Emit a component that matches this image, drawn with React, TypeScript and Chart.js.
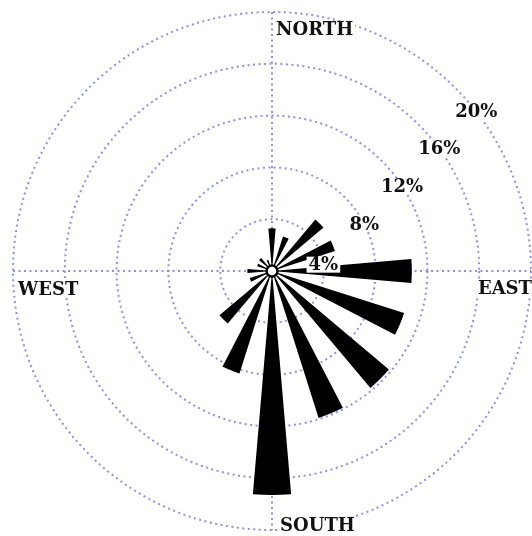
import React, { useEffect, useRef } from 'react';
import { Chart, registerables } from 'chart.js';

Chart.register(...registerables);

const directions = ['N', 'NNE', 'NE', 'ENE', 'E', 'ESE', 'SE', 'SSE', 'S', 'SSW', 'SW', 'WSW', 'W', 'WNW', 'NW', 'NNW'];
const frequencies = [3.3, 2.8, 5.2, 5.1, 10.8, 10.7, 11.8, 11.9, 17.3, 8.3, 5.3, 1.8, 1.9, 1.2, 1.3, 0.9];
const ringTicks = [4, 8, 12, 16, 20];
const ringLabels = ['4%', '8%', '12%', '16%', '20%'];
const compassLabels = ['NORTH', 'EAST', 'SOUTH', 'WEST'];

const WEDGE = 9.8;
const GAP = 360 / directions.length - WEDGE;
const GRID_COLOR = 'rgba(115, 115, 230, 0.8)';
const GRID_DASH = [2, 3.5];
const FONT = 'bold 18px "DejaVu Serif", serif';

const windRosePlugin = {
  id: 'windRose',
  beforeDatasetsDraw(chart: any) {
    const s = chart.scales.r;
    const ctx = chart.ctx;
    const R = s.getDistanceFromCenterForValue(ringTicks[ringTicks.length - 1]);
    ctx.save();
    ctx.strokeStyle = GRID_COLOR;
    ctx.lineWidth = 2;
    ctx.setLineDash(GRID_DASH);
    ctx.beginPath();
    ctx.moveTo(s.xCenter - R, s.yCenter);
    ctx.lineTo(s.xCenter + R, s.yCenter);
    ctx.moveTo(s.xCenter, s.yCenter - R);
    ctx.lineTo(s.xCenter, s.yCenter + R);
    ctx.stroke();
    ctx.restore();
  },
  afterDatasetsDraw(chart: any) {
    const s = chart.scales.r;
    const ctx = chart.ctx;
    const cx = s.xCenter;
    const cy = s.yCenter;
    const R = s.getDistanceFromCenterForValue(ringTicks[ringTicks.length - 1]);
    ctx.save();
    // centre hub
    ctx.beginPath();
    ctx.arc(cx, cy, 5.5, 0, Math.PI * 2);
    ctx.fillStyle = '#fff';
    ctx.fill();
    ctx.lineWidth = 2.5;
    ctx.strokeStyle = '#000';
    ctx.stroke();

    ctx.font = FONT;
    ctx.textBaseline = 'middle';
    const drawLabel = (text: string, x: number, y: number, align: 'left' | 'center' | 'right') => {
      const w = ctx.measureText(text).width;
      let left = x;
      if (align === 'center') left = x - w / 2;
      if (align === 'right') left = x - w;
      ctx.fillStyle = '#fff';
      ctx.fillRect(left - 2, y - 8, w + 4, 16);
      ctx.fillStyle = '#111';
      ctx.textAlign = 'left';
      ctx.fillText(text, left, y + 1);
    };

    // ring percentage labels along an offset diagonal
    const k = 0.174 * R;
    ringTicks.forEach((v, i) => {
      const r = s.getDistanceFromCenterForValue(v);
      const up = (-k + Math.sqrt(2 * r * r - k * k)) / 2;
      const dx = up + k;
      drawLabel(ringLabels[i], cx + dx, cy - up, 'center');
    });

    // compass labels
    drawLabel(compassLabels[0], cx + 4, cy - R + 17, 'left');
    drawLabel(compassLabels[1], cx + R + 1, cy + 17, 'right');
    drawLabel(compassLabels[2], cx + 8, cy + R - 5, 'left');
    drawLabel(compassLabels[3], cx - R + 5, cy + 18, 'left');
    ctx.restore();
  },
};

export default function App() {
  const ref = useRef<HTMLCanvasElement | null>(null);
  useEffect(() => {
    if (!ref.current) return;
    const labels: string[] = [];
    const data: number[] = [];
    directions.forEach((d, i) => {
      labels.push(d);
      data.push(frequencies[i]);
      labels.push('');
      data.push(0);
    });
    const chart = new Chart(ref.current, {
      type: 'polarArea',
      data: {
        labels,
        datasets: [
          {
            data,
            backgroundColor: '#000',
            borderWidth: 0,
            angle: (c: any) => (c.dataIndex % 2 === 0 ? WEDGE : GAP),
          } as any,
        ],
      },
      options: {
        responsive: false,
        animation: false,
        layout: { padding: { left: 13, top: 12, right: 1, bottom: 6 } },
        plugins: { legend: { display: false }, tooltip: { enabled: false } },
        scales: {
          r: {
            min: 0,
            max: 20,
            startAngle: -WEDGE / 2,
            ticks: { display: false, stepSize: 4 },
            grid: { circular: true, color: GRID_COLOR, lineWidth: 2 },
            border: { dash: GRID_DASH } as any,
            angleLines: { display: false },
            pointLabels: { display: false },
          },
        },
      } as any,
      plugins: [windRosePlugin],
    });
    return () => chart.destroy();
  }, []);
  return (
    <div style={{ position: 'absolute', left: 0, top: 0, width: 532, height: 536, background: '#fff' }}>
      <canvas ref={ref} width={532} height={536} style={{ display: 'block' }} />
    </div>
  );
}
